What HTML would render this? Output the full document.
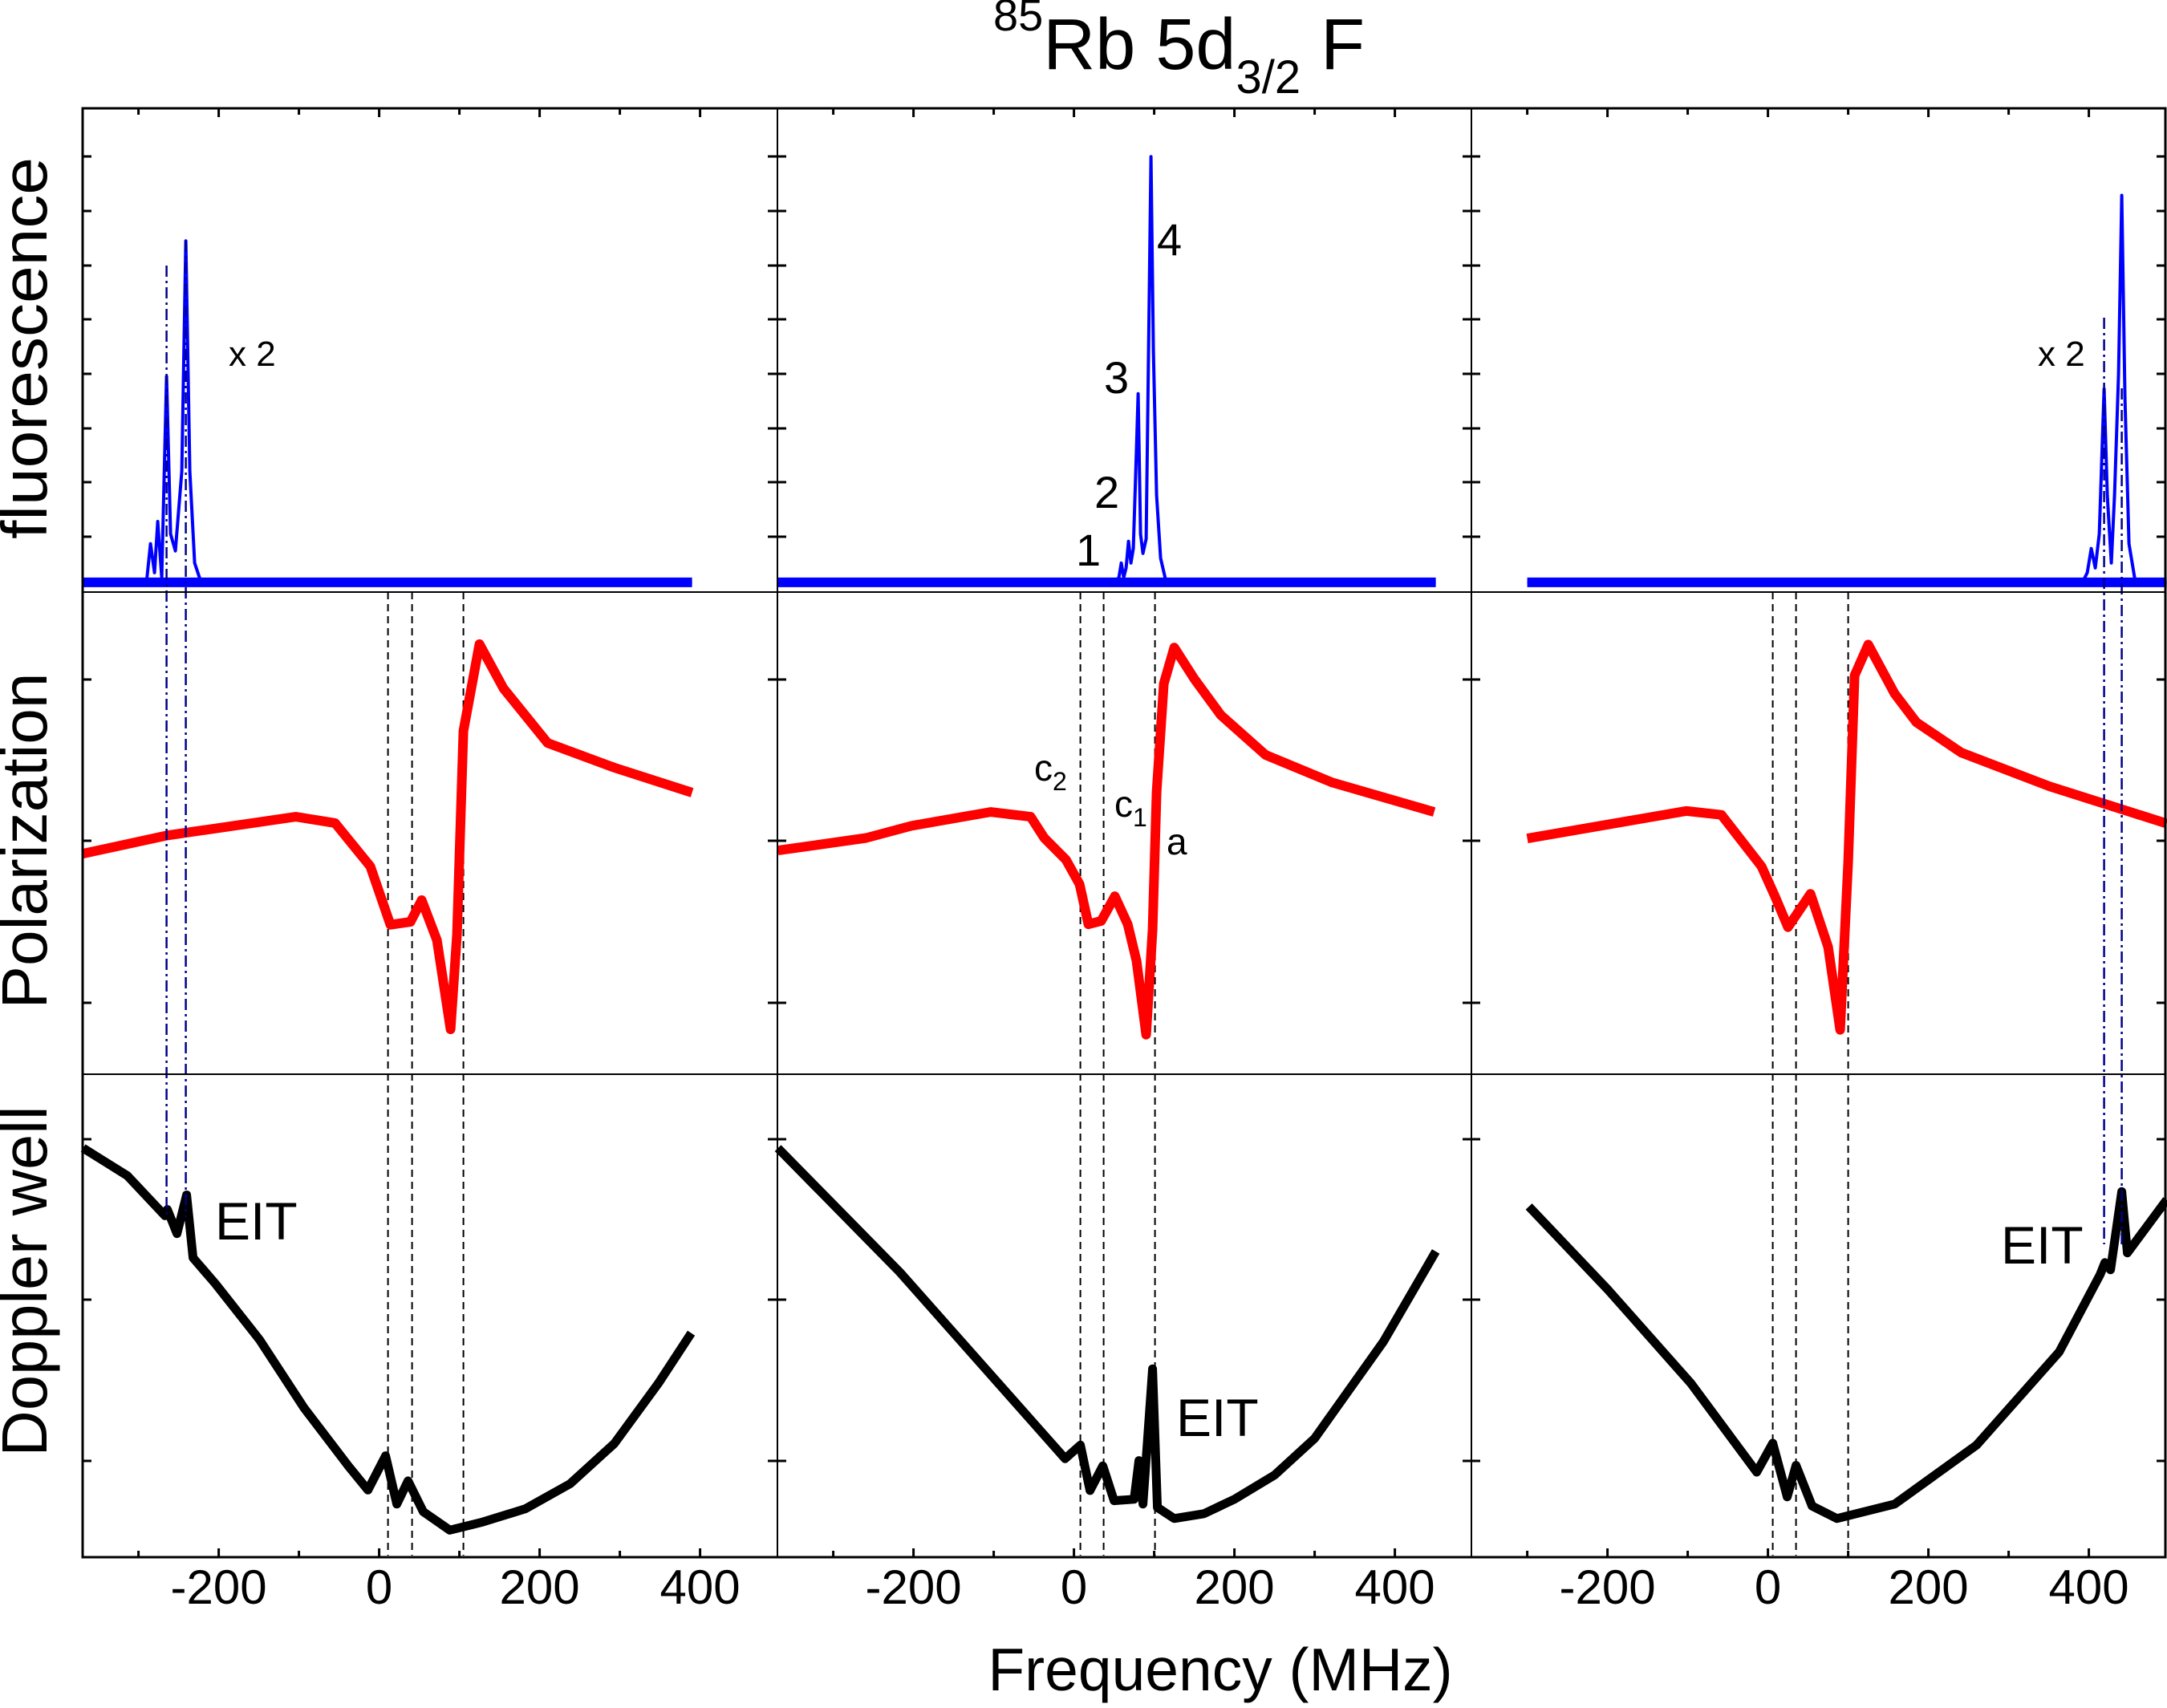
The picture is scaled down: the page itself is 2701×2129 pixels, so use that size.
<!DOCTYPE html>
<html><head><meta charset="utf-8"><title>85Rb 5d3/2 F</title>
<style>html,body{margin:0;padding:0;background:#fff}svg{display:block}text{font-family:"Liberation Sans",Arial,sans-serif}</style>
</head><body>
<svg id="chart" xmlns="http://www.w3.org/2000/svg" width="2701" height="2129" viewBox="0 0 2701 2129">
<rect x="0" y="0" width="2701" height="2129" fill="#fff"/>
<g id="marks"></g>
<g id="frame" fill="none" stroke="#000">
<rect x="103" y="135" width="2596" height="1806" stroke-width="3"/>
<line x1="969" y1="135" x2="969" y2="1941" stroke-width="2"/>
<line x1="1834" y1="135" x2="1834" y2="1941" stroke-width="2"/>
<line x1="103" y1="738" x2="2699" y2="738" stroke-width="2"/>
<line x1="103" y1="1339" x2="2699" y2="1339" stroke-width="2"/>
</g>
<g id="ticks" stroke="#000" stroke-width="3"></g>
<g id="labels"></g>
<text x="1238" y="86" font-size="90"><tspan font-size="56" dy="-48">85</tspan><tspan dy="48">Rb 5d</tspan><tspan font-size="58" dy="30">3/2</tspan><tspan dy="-30"> F</tspan></text>
<text x="1521" y="2107" font-size="75" text-anchor="middle">Frequency (MHz)</text>
<text transform="translate(58,434) rotate(-90)" font-size="80" text-anchor="middle" textLength="476" lengthAdjust="spacingAndGlyphs">fluorescence</text>
<text transform="translate(58,1048) rotate(-90)" font-size="80" text-anchor="middle" textLength="419" lengthAdjust="spacingAndGlyphs">Polarization</text>
<text transform="translate(58,1597) rotate(-90)" font-size="80" text-anchor="middle" textLength="437" lengthAdjust="spacingAndGlyphs">Doppler well</text>
<g font-size="44">
<text x="285" y="456">x 2</text>
<text x="2540" y="456">x 2</text>
<text x="1442" y="318" font-size="56">4</text>
<text x="1376" y="490" font-size="56">3</text>
<text x="1364" y="633" font-size="56">2</text>
<text x="1341" y="705" font-size="56">1</text>
<text x="1289" y="973" font-size="46">c<tspan font-size="32" dy="12">2</tspan></text>
<text x="1389" y="1018" font-size="46">c<tspan font-size="32" dy="12">1</tspan></text>
<text x="1454" y="1065" font-size="46">a</text>
<text x="268" y="1545" font-size="66">EIT</text>
<text x="1466" y="1790" font-size="66">EIT</text>
<text x="2494" y="1575" font-size="66">EIT</text>
</g>
</svg>
<script>
// ---- data (frequency in MHz, signal in fraction of row height) ----
const panelNames = ["left","middle","right"];
const xTickLabels = [-200, 0, 200, 400];
const xTicksAll = [-300, -200, -100, 0, 100, 200, 300, 400];
const fluorF1 = [-369,-290,-285,-280,-276,-271,-265,-260,-254,-246,-241,-236,-230,-222,390];
const fluorV1 = [.02,.02,.10,.04,.146,.03,.446,.12,.085,.25,.726,.25,.06,.02,.02];
const fluorF2 = [-369,50,56,59,62,65,68,71,74,78,80,83,86,90,93,96,99,103,108,115,451];
const fluorV2 = [.02,.02,.03,.06,.03,.05,.105,.06,.09,.3,.41,.12,.08,.11,.5,.90,.5,.2,.07,.02,.02];
const fluorF3 = [-300,392,398,403,408,413,419,423,428,432,437,441,445,450,458,497];
const fluorV3 = [.02,.02,.04,.09,.05,.12,.42,.2,.06,.2,.45,.82,.4,.1,.02,.02];
const polF1 = [-370,-265,-104,-55,-11,14,39,53,72,89,97,105,125,155,210,293,390];
const polV1 = [.457,.495,.534,.521,.431,.31,.316,.361,.278,.093,.29,.712,.892,.80,.687,.636,.584];
const polF2 = [-369,-259,-203,-104,-54,-37,-10,7,18,34,51,67,78,90,98,103,112,125,150,183,239,322,449];
const polV2 = [.464,.49,.515,.544,.534,.49,.445,.394,.311,.318,.369,.311,.235,.082,.30,.585,.81,.885,.82,.745,.662,.605,.544];
const polF3 = [-300,-102,-58,-8,9,25,53,75,90,100,108,125,158,185,241,351,497];
const polV3 = [.489,.546,.538,.431,.368,.305,.374,.264,.092,.44,.827,.891,.789,.73,.667,.597,.52];
const dopF1 = [-369,-314,-267,-264,-252,-240,-232,-204,-149,-94,-39,-14,8,22,36,55,88,127,182,238,293,348,389];
const dopV1 = [.847,.79,.707,.72,.67,.75,.62,.566,.45,.31,.19,.139,.21,.11,.158,.094,.056,.072,.10,.152,.235,.36,.464];
const dopF2 = [-369,-217,-11,8,20,36,50,75,81,86,98,104,125,162,200,250,300,386,451];
const dopV2 = [.847,.59,.204,.232,.138,.189,.117,.12,.20,.11,.39,.103,.08,.09,.12,.17,.246,.447,.633];
const dopF3 = [-298,-199,-96,-14,6,24,35,55,86,158,260,363,414,420,427,441,448,497];
const dopV3 = [.726,.553,.36,.176,.236,.125,.19,.106,.08,.11,.232,.425,.585,.61,.595,.757,.63,.74];
const markerF1 = [11,41,105];
const markerF2 = [8,37,101];
const markerF3 = [6,35,100];
const blueMarkF1 = [-265,-241];
const blueMarkF3 = [419,441];

// ---- axis functions ----
const panelLeft = [103, 969, 1834];
const fMin = -369.6, pxPerMHz = 1.0;
const rowTop = [135, 738, 1339], rowBot = [738, 1339, 1941];
function X(p, f){ return panelLeft[p] + (f - fMin) * pxPerMHz; }
function Y(r, v){ return rowBot[r] - v * (rowBot[r] - rowTop[r]); }
const NS = "http://www.w3.org/2000/svg";
const marks = document.getElementById("marks");
const ticks = document.getElementById("ticks");
const labels = document.getElementById("labels");
function pathD(p, r, F, V, clip){
  let d = "";
  for (let i = 0; i < F.length; i++){
    const v = clip === undefined ? V[i] : Math.min(V[i], clip);
    d += (i ? "L" : "M") + X(p, F[i]).toFixed(1) + "," + Y(r, v).toFixed(1);
  }
  return d;
}
function addPath(parent, d, color, w, name){
  const el = document.createElementNS(NS, "path");
  el.setAttribute("d", d);
  el.setAttribute("fill", "none");
  el.setAttribute("stroke", color);
  el.setAttribute("stroke-width", w);
  el.setAttribute("stroke-linejoin", "round");
  
  
  parent.appendChild(el);
  return el;
}
function addLine(parent, x1, y1, x2, y2, color, w, dash, name){
  const el = document.createElementNS(NS, "line");
  el.setAttribute("x1", x1); el.setAttribute("y1", y1);
  el.setAttribute("x2", x2); el.setAttribute("y2", y2);
  el.setAttribute("stroke", color); el.setAttribute("stroke-width", w);
  if (dash) el.setAttribute("stroke-dasharray", dash);
  
  
  parent.appendChild(el);
  return el;
}
const fluor = [[fluorF1,fluorV1],[fluorF2,fluorV2],[fluorF3,fluorV3]];
const pol = [[polF1,polV1],[polF2,polV2],[polF3,polV3]];
const dop = [[dopF1,dopV1],[dopF2,dopV2],[dopF3,dopV3]];
const markers = [markerF1, markerF2, markerF3];
for (let p = 0; p < 3; p++){
  for (const f of markers[p]){
    addLine(marks, X(p,f), rowBot[0], X(p,f), rowBot[2]-2, "#000", 2, "9,6", "resonance-marker-" + panelNames[p]);
  }
  addPath(marks, pathD(p,0,fluor[p][0],fluor[p][1],0.02), "#0000ff", 12, "fluorescence-noise-" + panelNames[p]);
  addPath(marks, pathD(p,0,fluor[p][0],fluor[p][1]), "#0000ff", 4, "fluorescence-curve-" + panelNames[p]);
  addPath(marks, pathD(p,1,pol[p][0],pol[p][1]), "#ff0000", 12, "polarization-curve-" + panelNames[p]);
  addPath(marks, pathD(p,2,dop[p][0],dop[p][1]), "#000000", 11, "doppler-curve-" + panelNames[p]);
  for (const t of xTickLabels){
    const tx = document.createElementNS(NS, "text");
    tx.setAttribute("x", X(p,t)); tx.setAttribute("y", 1999);
    tx.setAttribute("font-size", "60"); tx.setAttribute("text-anchor", "middle");
    tx.textContent = String(t);
    
    
    labels.appendChild(tx);
  }
  for (const t of xTicksAll){
    const len = (t % 200 === 0) ? 11 : 8;
    addLine(ticks, X(p,t), 1941, X(p,t), 1941-len, "#000", 3, null, "x-tick");
    addLine(ticks, X(p,t), 135, X(p,t), 135+len, "#000", 3, null, "x-tick-top");
  }
  const yt = [195,263,331,398,466,534,601,669, 847,1048,1250, 1420,1620,1821];
  for (const y of yt){
    addLine(ticks, panelLeft[p], y, panelLeft[p]+11, y, "#000", 3, null, "y-tick");
    addLine(ticks, panelLeft[p]+865, y, panelLeft[p]+854, y, "#000", 3, null, "y-tick");
  }
}
const bl = [[0, blueMarkF1, [331, 300], 1517], [2, blueMarkF3, [396, 484], 1551]];
for (const [p, fs, tops, bot] of bl){
  fs.forEach((f, i) => {
    addLine(marks, X(p,f), tops[i], X(p,f), bot, "#00008b", 2.5, "14,5,3,5", "eit-marker-" + panelNames[p]);
  });
}
</script>
</body></html>
